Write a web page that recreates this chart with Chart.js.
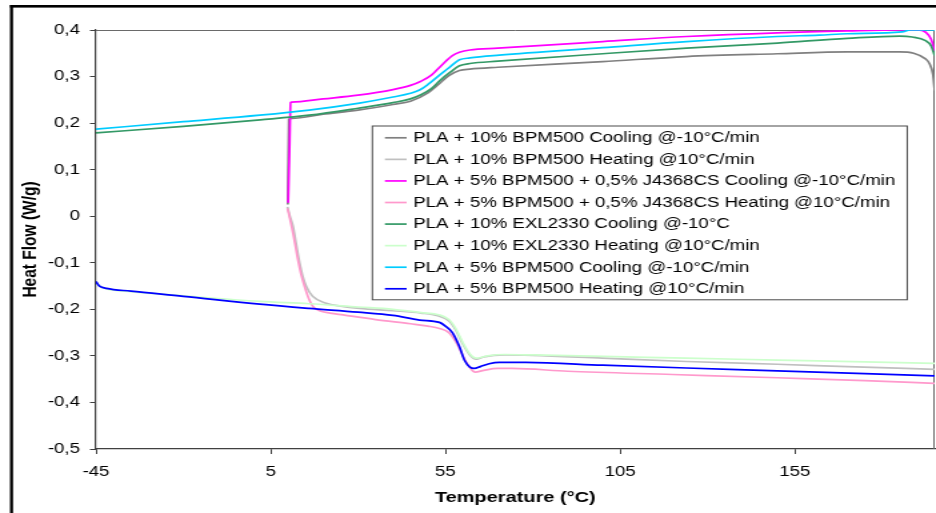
<!DOCTYPE html>
<html><head><meta charset="utf-8">
<script src="https://cdn.jsdelivr.net/npm/chart.js@4.4.0/dist/chart.umd.min.js"></script>
<style>
html,body{margin:0;padding:0;background:#fff;overflow:hidden;}
</style></head><body>
<canvas id="c" width="702" height="513" style="width:936px;height:513px;display:block"></canvas>
<script>
// ---- Data (temperature in °C, heat flow in W/g) ----
const seriesLabels = [
  'PLA + 10% BPM500 Cooling @-10°C/min',
  'PLA + 10% BPM500 Heating @10°C/min',
  'PLA + 5% BPM500 + 0,5% J4368CS Cooling @-10°C/min',
  'PLA + 5% BPM500 + 0,5% J4368CS Heating @10°C/min',
  'PLA + 10% EXL2330 Cooling @-10°C',
  'PLA + 10% EXL2330 Heating @10°C/min',
  'PLA + 5% BPM500 Cooling @-10°C/min',
  'PLA + 5% BPM500 Heating @10°C/min'
];
const seriesColors = ['#808080','#C0C0C0','#FF00FF','#FF99CC','#339966','#CCFFCC','#00CCFF','#0000FF'];

const bpm10CoolT = [195, 194.5, 193.5, 192.4, 189, 185, 170, 150, 124, 100, 70, 62, 59, 56, 53, 50, 45, 40, 30, 20, 11, 10.2, 9.9];
const bpm10CoolY = [0.270, 0.305, 0.328, 0.338, 0.350, 0.353, 0.353, 0.349, 0.343, 0.332, 0.320, 0.316, 0.313, 0.302, 0.283, 0.265, 0.247, 0.240, 0.228, 0.219, 0.210, 0.208, 0.025];

const bpm10HeatT = [9.8, 10.5, 11.4, 12.3, 13.3, 14.2, 15.2, 17, 20.9, 25, 30.4, 40, 48, 53.3, 56, 58, 60, 62, 63.8, 66, 72, 80, 100, 124, 150, 170, 195];
const bpm10HeatY = [0.020, 0.000, -0.022, -0.060, -0.101, -0.130, -0.151, -0.172, -0.187, -0.193, -0.198, -0.203, -0.208, -0.215, -0.225, -0.245, -0.275, -0.298, -0.307, -0.302, -0.298, -0.299, -0.305, -0.312, -0.318, -0.323, -0.329];

const j4368CoolT = [195, 194, 192.5, 190, 185, 170, 150, 124, 100, 70, 62, 59, 57, 54, 51, 48, 45, 40, 30, 20, 11, 10.7, 10.4, 10.0];
const j4368CoolY = [0.355, 0.380, 0.395, 0.400, 0.400, 0.398, 0.394, 0.386, 0.375, 0.361, 0.357, 0.352, 0.345, 0.325, 0.303, 0.290, 0.281, 0.272, 0.260, 0.252, 0.245, 0.244, 0.150, 0.029];

const j4368HeatT = [9.8, 10.5, 11.4, 12.1, 12.8, 13.7, 14.7, 15.8, 17.1, 19, 22, 25.7, 35, 45, 50, 53.3, 56, 58, 60, 62, 63.5, 66, 70, 74, 90, 120, 150, 175, 195];
const j4368HeatY = [0.017, -0.005, -0.037, -0.065, -0.094, -0.125, -0.151, -0.175, -0.194, -0.203, -0.208, -0.212, -0.222, -0.231, -0.236, -0.241, -0.250, -0.270, -0.300, -0.325, -0.335, -0.331, -0.327, -0.327, -0.333, -0.340, -0.347, -0.353, -0.359];

const exlCoolT = [195, 194, 192.4, 188.6, 185, 170, 150, 124, 100, 70, 62, 59, 56.5, 53.5, 51, 48, 45, 40, 30, 16, 2, -20, -45];
const exlCoolY = [0.345, 0.366, 0.377, 0.385, 0.387, 0.382, 0.372, 0.361, 0.349, 0.333, 0.328, 0.323, 0.310, 0.292, 0.274, 0.261, 0.252, 0.244, 0.232, 0.217, 0.207, 0.193, 0.179];

const exlHeatT = [-45, -44, -42, -35, -20, 2, 16, 30, 40, 48, 53.3, 56, 58, 60, 62, 63.8, 67, 72, 80, 100, 124, 150, 175, 195];
const exlHeatY = [-0.142, -0.150, -0.156, -0.162, -0.171, -0.183, -0.188, -0.195, -0.200, -0.207, -0.212, -0.222, -0.242, -0.272, -0.296, -0.305, -0.300, -0.297, -0.298, -0.301, -0.305, -0.309, -0.313, -0.316];

const bpm5CoolT = [195, 188, 185.7, 170, 161.9, 150, 124, 100, 70.4, 62, 59, 56.5, 53.3, 50, 47.6, 45, 40, 30.4, 16, 1.9, -20, -45];
const bpm5CoolY = [0.400, 0.400, 0.396, 0.392, 0.389, 0.386, 0.375, 0.362, 0.346, 0.340, 0.336, 0.322, 0.303, 0.283, 0.271, 0.264, 0.256, 0.243, 0.228, 0.217, 0.203, 0.187];

const bpm5HeatT = [-45, -44.5, -44, -42, -35, -20, 1.9, 16, 30, 40, 47.6, 53.3, 55, 57, 59, 60.5, 62, 63.3, 65, 67.5, 70.4, 78, 100, 124, 150, 175, 195];
const bpm5HeatY = [-0.140, -0.146, -0.150, -0.155, -0.161, -0.172, -0.189, -0.198, -0.206, -0.213, -0.223, -0.228, -0.236, -0.250, -0.280, -0.310, -0.324, -0.327, -0.323, -0.317, -0.314, -0.314, -0.320, -0.326, -0.332, -0.338, -0.343];

const xTicks = [-45, 5, 55, 105, 155];
const yTicks = [-0.5, -0.4, -0.3, -0.2, -0.1, 0, 0.1, 0.2, 0.3, 0.4];
const yTickLabels = ['-0,5', '-0,4', '-0,3', '-0,2', '-0,1', '0', '0,1', '0,2', '0,3', '0,4'];

const seriesT = [bpm10CoolT, bpm10HeatT, j4368CoolT, j4368HeatT, exlCoolT, exlHeatT, bpm5CoolT, bpm5HeatT];
const seriesY = [bpm10CoolY, bpm10HeatY, j4368CoolY, j4368HeatY, exlCoolY, exlHeatY, bpm5CoolY, bpm5HeatY];

// ---- Chart ----
const FONT = "'Liberation Sans', Arial, sans-serif";
Chart.defaults.font.family = FONT;
Chart.defaults.color = '#000';

const datasets = seriesLabels.map((label, i) => ({
  label,
  data: seriesT[i].map((t, k) => ({x: t, y: seriesY[i][k]})),
  borderColor: seriesColors[i],
  backgroundColor: seriesColors[i],
  borderWidth: 1.7,
  pointRadius: 0,
  fill: false,
  cubicInterpolationMode: 'monotone',
  order: seriesLabels.length - i
}));

const decor = {
  id: 'decor',
  beforeDraw(chart) {
    const ctx = chart.ctx;
    ctx.save();
    ctx.fillStyle = '#fff';
    ctx.fillRect(0, 0, chart.width, chart.height);
    ctx.fillStyle = '#000';
    ctx.fillRect(7.5, 5, chart.width, 2.6);
    ctx.fillRect(7.5, 5, 2.3, chart.height);
    ctx.restore();
  },
  beforeDatasetsDraw(chart) {
    const ctx = chart.ctx;
    const a = chart.chartArea;
    ctx.save();
    ctx.strokeStyle = '#6a6a6a';
    ctx.lineWidth = 1;
    ctx.beginPath();
    ctx.moveTo(a.left, a.top + 0.5);
    ctx.lineTo(a.right - 0.5, a.top + 0.5);
    ctx.lineTo(a.right - 0.5, a.bottom);
    ctx.stroke();
    ctx.restore();
  },
  afterDraw(chart) {
    const ctx = chart.ctx;
    const ds = chart.data.datasets;
    ctx.save();
    ctx.font = '14px ' + FONT;
    const bx = 278.8, by = 125.5, rowH = 21.57;
    const lineX0 = bx + 9.9, lineX1 = bx + 26.2, textX = bx + 31.2;
    const maxW = Math.max(...ds.map(d => ctx.measureText(d.label).width));
    const boxW = textX - bx + maxW + 8.5;
    const boxH = 12.3 + rowH * (ds.length - 1) + 10.5;
    ctx.fillStyle = '#fff';
    ctx.fillRect(bx, by, boxW, boxH);
    ctx.strokeStyle = '#4a4a4a';
    ctx.lineWidth = 1;
    ctx.strokeRect(bx + 0.5, by + 0.5, boxW, boxH);
    ds.forEach((d, i) => {
      const cy = by + 12.3 + i * rowH;
      ctx.strokeStyle = d.borderColor;
      ctx.lineWidth = 1.7;
      ctx.beginPath();
      ctx.moveTo(lineX0, cy);
      ctx.lineTo(lineX1, cy);
      ctx.stroke();
      ctx.fillStyle = '#000';
      ctx.textBaseline = 'middle';
      ctx.textAlign = 'left';
      ctx.fillText(d.label, textX, cy + 0.5);
    });
    ctx.restore();
  }
};

new Chart(document.getElementById('c'), {
  type: 'line',
  data: {datasets},
  plugins: [decor],
  options: {
    responsive: false,
    animation: false,
    devicePixelRatio: 1,
    layout: {padding: {top: 30, right: 1, left: 0, bottom: 0}},
    plugins: {legend: {display: false}, tooltip: {enabled: false}},
    scales: {
      x: {
        type: 'linear',
        min: -45, max: 195,
        afterBuildTicks: s => { s.ticks = xTicks.map(v => ({value: v})); },
        afterFit: s => { s.height = 64; },
        grid: {drawOnChartArea: false, tickLength: 5, color: '#404040', lineWidth: 1},
        border: {color: '#404040', width: 1.2},
        ticks: {font: {size: 14}, padding: 10, maxRotation: 0, callback: v => String(v)},
        title: {display: true, text: 'Temperature (°C)', font: {size: 15, weight: 'bold'}, padding: {top: 0, bottom: 6}}
      },
      y: {
        type: 'linear',
        min: -0.5, max: 0.4,
        afterBuildTicks: s => { s.ticks = yTicks.map(v => ({value: v})); },
        afterFit: s => { s.width = 72; },
        grid: {drawOnChartArea: false, tickLength: 4.5, color: '#404040', lineWidth: 1},
        border: {color: '#404040', width: 1.2},
        ticks: {font: {size: 14}, padding: 7.5, callback: v => yTickLabels[yTicks.findIndex(t => Math.abs(t - v) < 1e-9)]},
        title: {display: true, text: 'Heat Flow (W/g)', font: {size: 15.5, weight: 'bold'}, padding: {top: 13.5, bottom: 0}}
      }
    }
  }
});
</script>
</body></html>
